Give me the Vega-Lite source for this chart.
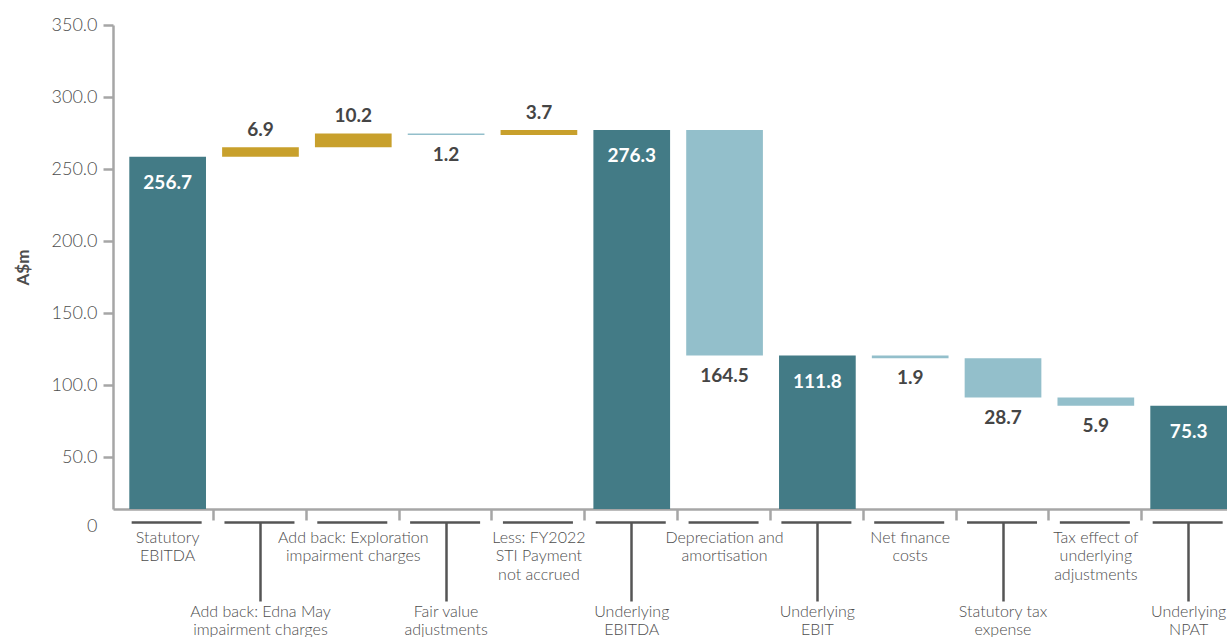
{
  "$schema": "https://vega.github.io/schema/vega-lite/v6.json",
  "width": 1114,
  "height": 484,
  "autosize": {"type": "none"},
  "padding": {"left": 113, "top": 25, "right": 0, "bottom": 128},
  "background": "white",
  "config": {"view": {"stroke": null}, "font": "Lato"},
  "data": {
    "values": [
      {"cat": "Statutory\nEBITDA", "amount": 256.7, "start": 0, "end": 256.7, "type": "total"},
      {"cat": "Add back: Edna May\nimpairment charges", "amount": 6.9, "start": 256.7, "end": 263.6, "type": "increase"},
      {"cat": "Add back: Exploration\nimpairment charges", "amount": 10.2, "start": 263.6, "end": 273.8, "type": "increase"},
      {"cat": "Fair value\nadjustments", "amount": 1.2, "start": 273.8, "end": 272.6, "type": "decrease"},
      {"cat": "Less: FY2022\nSTI Payment\nnot accrued", "amount": 3.7, "start": 272.6, "end": 276.3, "type": "increase"},
      {"cat": "Underlying\nEBITDA", "amount": 276.3, "start": 0, "end": 276.3, "type": "total"},
      {"cat": "Depreciation and\namortisation", "amount": 164.5, "start": 276.3, "end": 111.8, "type": "decrease"},
      {"cat": "Underlying\nEBIT", "amount": 111.8, "start": 0, "end": 111.8, "type": "total"},
      {"cat": "Net finance\ncosts", "amount": 1.9, "start": 111.8, "end": 109.9, "type": "decrease"},
      {"cat": "Statutory tax\nexpense", "amount": 28.7, "start": 109.9, "end": 81.2, "type": "decrease"},
      {"cat": "Tax effect of\nunderlying\nadjustments", "amount": 5.9, "start": 81.2, "end": 75.3, "type": "decrease"},
      {"cat": "Underlying\nNPAT", "amount": 75.3, "start": 0, "end": 75.3, "type": "total"}
    ]
  },
  "encoding": {
    "x": {
      "field": "cat", "type": "nominal", "sort": null,
      "scale": {
        "domain": ["Statutory\nEBITDA", "Add back: Edna May\nimpairment charges", "Add back: Exploration\nimpairment charges", "Fair value\nadjustments", "Less: FY2022\nSTI Payment\nnot accrued", "Underlying\nEBITDA", "Depreciation and\namortisation", "Underlying\nEBIT", "Net finance\ncosts", "Statutory tax\nexpense", "Tax effect of\nunderlying\nadjustments", "Underlying\nNPAT"],
        "paddingInner": 0.1737, "paddingOuter": 0.0878, "align": 1
      },
      "axis": null
    }
  },
  "layer": [
    {
      "mark": {"type": "bar"},
      "encoding": {
        "x": {
          "field": "cat", "type": "nominal", "sort": null,
          "scale": {
            "domain": ["Statutory\nEBITDA", "Add back: Edna May\nimpairment charges", "Add back: Exploration\nimpairment charges", "Fair value\nadjustments", "Less: FY2022\nSTI Payment\nnot accrued", "Underlying\nEBITDA", "Depreciation and\namortisation", "Underlying\nEBIT", "Net finance\ncosts", "Statutory tax\nexpense", "Tax effect of\nunderlying\nadjustments", "Underlying\nNPAT"],
            "paddingInner": 0.1737, "paddingOuter": 0.0878, "align": 1
          },
          "axis": {
            "orient": "bottom", "title": null, "labels": false, "grid": false,
            "domainColor": "#a6a6a6", "domainWidth": 2.5,
            "ticks": true, "tickColor": "#a6a6a6", "tickWidth": 2.5, "tickSize": 11,
            "bandPosition": 1, "tickOffset": 7
          }
        },
        "y": {"field": "end", "type": "quantitative", "scale": {"domain": [0, 352.8], "nice": false, "zero": true}, "axis": null},
        "y2": {"field": "start"},
        "color": {
          "field": "type", "type": "nominal",
          "scale": {"domain": ["total", "increase", "decrease"], "range": ["#437b86", "#c8a02c", "#93bfcb"]},
          "legend": null
        }
      }
    },
    {
      "transform": [{"filter": "datum.type === 'total'"}],
      "mark": {"type": "text", "dy": 26, "baseline": "middle", "align": "center", "font": "Lato", "fontWeight": "bold", "fontSize": 19, "color": "#ffffff"},
      "encoding": {
        "y": {"field": "end", "type": "quantitative", "scale": {"domain": [0, 352.8], "nice": false, "zero": true}, "axis": null},
        "text": {"field": "amount", "type": "quantitative", "format": ".1f"}
      }
    },
    {
      "transform": [{"filter": "datum.type === 'increase'"}],
      "mark": {"type": "text", "dy": -17, "baseline": "middle", "align": "center", "font": "Lato", "fontWeight": "bold", "fontSize": 19, "color": "#454545"},
      "encoding": {
        "y": {"field": "end", "type": "quantitative", "scale": {"domain": [0, 352.8], "nice": false, "zero": true}, "axis": null},
        "text": {"field": "amount", "type": "quantitative", "format": ".1f"}
      }
    },
    {
      "transform": [{"filter": "datum.type === 'decrease'"}],
      "mark": {"type": "text", "dy": 20, "baseline": "middle", "align": "center", "font": "Lato", "fontWeight": "bold", "fontSize": 19, "color": "#454545"},
      "encoding": {
        "y": {"field": "end", "type": "quantitative", "scale": {"domain": [0, 352.8], "nice": false, "zero": true}, "axis": null},
        "text": {"field": "amount", "type": "quantitative", "format": ".1f"}
      }
    },
    {
      "mark": {"type": "point", "opacity": 0},
      "encoding": {
        "x": {
          "field": "cat", "type": "nominal", "sort": null,
          "scale": {
            "domain": ["Statutory\nEBITDA", "Add back: Edna May\nimpairment charges", "Add back: Exploration\nimpairment charges", "Fair value\nadjustments", "Less: FY2022\nSTI Payment\nnot accrued", "Underlying\nEBITDA", "Depreciation and\namortisation", "Underlying\nEBIT", "Net finance\ncosts", "Statutory tax\nexpense", "Tax effect of\nunderlying\nadjustments", "Underlying\nNPAT"],
            "paddingInner": 0.1737, "paddingOuter": 0.0878, "align": 1
          },
          "axis": {
            "orient": "bottom", "offset": 13, "title": null, "grid": false,
            "domain": true, "domainColor": "#555555", "domainWidth": 2.5,
            "domainDash": [70, 22.82], "domainDashOffset": 74.67,
            "ticks": true, "tickColor": "#555555", "tickWidth": 2.5,
            "tickSize": {"condition": {"test": "test(regexp('Underlying|Edna|Fair|Statutory tax'), datum.value)", "value": 79}, "value": 0},
            "labelPadding": {"condition": {"test": "test(regexp('Underlying|Edna|Fair|Statutory tax'), datum.value)", "value": 2}, "value": 7},
            "labelExpr": "split(datum.label, '\\n')",
            "labelAngle": 0, "labelAlign": "center", "labelBaseline": "top",
            "labelFont": "Lato", "labelFontSize": 16, "labelFontWeight": 300, "labelColor": "#4d4d4d",
            "labelLineHeight": 18.5, "labelLimit": 300, "labelOverlap": false
          }
        },
        "y": {
          "field": "end", "type": "quantitative",
          "scale": {"domain": [14.1, 350], "nice": false, "zero": false},
          "axis": {
            "orient": "left", "grid": false,
            "values": [14.1, 50, 100, 150, 200, 250, 300, 350],
            "labelExpr": "datum.value < 20 ? '0' : format(datum.value, '.1f')",
            "title": "A$m", "titleFont": "Lato", "titleFontSize": 17, "titleFontWeight": "bold", "titleColor": "#4d4d4d", "titlePadding": 19,
            "domainColor": "#a6a6a6", "domainWidth": 2.5,
            "tickColor": "#a6a6a6", "tickWidth": 2.5, "tickSize": 10,
            "tickOpacity": {"condition": {"test": "datum.value < 20", "value": 0}, "value": 1},
            "labelOffset": {"condition": {"test": "datum.value < 20", "value": 17}, "value": 0},
            "labelFont": "Lato", "labelFontSize": 18, "labelFontWeight": 300, "labelColor": "#4d4d4d", "labelPadding": 6
          }
        }
      }
    }
  ],
  "resolve": {"scale": {"y": "independent"}, "axis": {"x": "independent", "y": "independent"}}
}
